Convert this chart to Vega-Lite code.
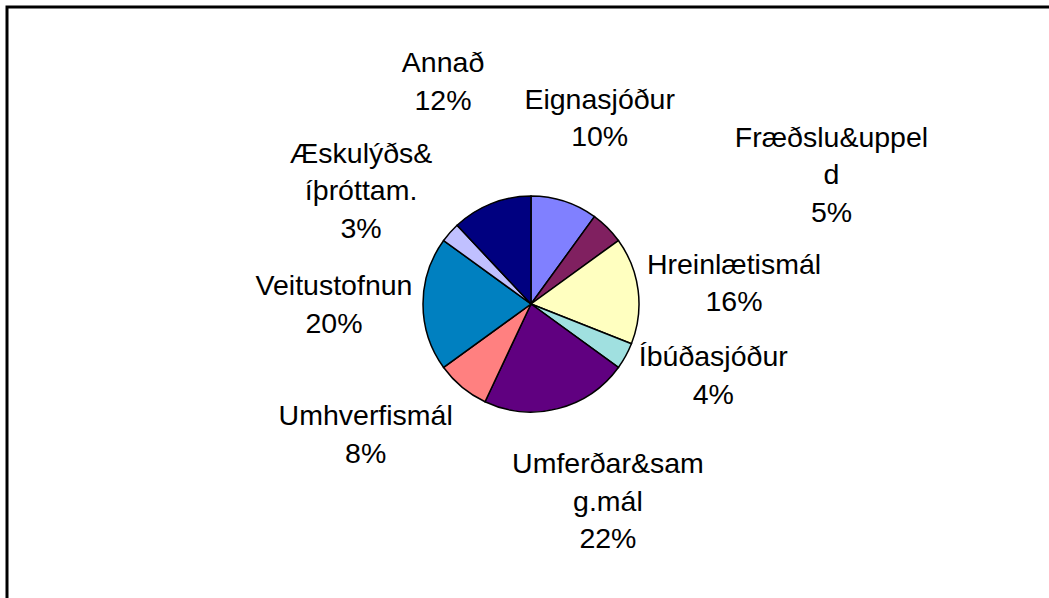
{
  "$schema": "https://vega.github.io/schema/vega-lite/v6.json",
  "autosize": "none",
  "width": 1048,
  "height": 594,
  "padding": {"left": 7, "top": 7, "right": -6, "bottom": -3},
  "background": "white",
  "view": {"stroke": "black", "strokeWidth": 3, "fill": "white"},
  "data": {
    "values": [
      {"i": 1, "k": "Eignasjóður", "label": "Eignasjóður", "value": 10},
      {"i": 2, "k": "Fræðslu", "label": "Fræðslu&uppel\nd", "value": 5},
      {"i": 3, "k": "Hreinlætismál", "label": "Hreinlætismál", "value": 16},
      {"i": 4, "k": "Íbúðasjóður", "label": "Íbúðasjóður", "value": 4},
      {"i": 5, "k": "Umferðar", "label": "Umferðar&sam\ng.mál", "value": 22},
      {"i": 6, "k": "Umhverfismál", "label": "Umhverfismál", "value": 8},
      {"i": 7, "k": "Veitustofnun", "label": "Veitustofnun", "value": 20},
      {"i": 8, "k": "Æskulýðs", "label": "Æskulýðs&\níþróttam.", "value": 3},
      {"i": 9, "k": "Annað", "label": "Annað", "value": 12}
    ]
  },
  "transform": [
    {"calculate": "datum.label + '\\n' + datum.value + '%'", "as": "t"}
  ],
  "encoding": {
    "theta": {"field": "value", "type": "quantitative", "stack": true},
    "order": {"field": "i", "type": "quantitative", "sort": "ascending"}
  },
  "layer": [
    {
      "mark": {"type": "arc", "outerRadius": 108, "stroke": "black", "strokeWidth": 1.5},
      "encoding": {
        "color": {
          "field": "k", "type": "nominal", "legend": null,
          "scale": {
            "domain": ["Eignasjóður", "Fræðslu", "Hreinlætismál", "Íbúðasjóður", "Umferðar", "Umhverfismál", "Veitustofnun", "Æskulýðs", "Annað"],
            "range": ["#8080FF", "#802060", "#FFFFC0", "#A0E0E0", "#600080", "#FF8080", "#0080C0", "#C0C0FF", "#000080"]
          }
        }
      }
    },
    {
      "mark": {"type": "text", "radius": 239, "dy": -18.75, "font": "Liberation Sans", "fontSize": 28.5, "lineBreak": "\n", "lineHeight": 37.5, "baseline": "middle", "align": "center", "color": "black"},
      "encoding": {"text": {"condition": {"test": "datum.k === 'Annað'", "field": "t"}, "value": ""}}
    },
    {
      "mark": {"type": "text", "radius": 198, "dy": -18.75, "thetaOffset": 0.04, "font": "Liberation Sans", "fontSize": 28.5, "lineBreak": "\n", "lineHeight": 37.5, "baseline": "middle", "align": "center", "color": "black"},
      "encoding": {"text": {"condition": {"test": "datum.k === 'Eignasjóður'", "field": "t"}, "value": ""}}
    },
    {
      "mark": {"type": "text", "radius": 327, "dy": -37.5, "thetaOffset": 0.38, "font": "Liberation Sans", "fontSize": 28.5, "lineBreak": "\n", "lineHeight": 37.5, "baseline": "middle", "align": "center", "color": "black"},
      "encoding": {"text": {"condition": {"test": "datum.k === 'Fræðslu'", "field": "t"}, "value": ""}}
    },
    {
      "mark": {"type": "text", "radius": 204, "dy": -18.75, "thetaOffset": 0.026, "font": "Liberation Sans", "fontSize": 28.5, "lineBreak": "\n", "lineHeight": 37.5, "baseline": "middle", "align": "center", "color": "black"},
      "encoding": {"text": {"condition": {"test": "datum.k === 'Hreinlætismál'", "field": "t"}, "value": ""}}
    },
    {
      "mark": {"type": "text", "radius": 196, "dy": -18.75, "thetaOffset": -0.126, "font": "Liberation Sans", "fontSize": 28.5, "lineBreak": "\n", "lineHeight": 37.5, "baseline": "middle", "align": "center", "color": "black"},
      "encoding": {"text": {"condition": {"test": "datum.k === 'Íbúðasjóður'", "field": "t"}, "value": ""}}
    },
    {
      "mark": {"type": "text", "radius": 212, "dy": -37.5, "thetaOffset": -0.12, "font": "Liberation Sans", "fontSize": 28.5, "lineBreak": "\n", "lineHeight": 37.5, "baseline": "middle", "align": "center", "color": "black"},
      "encoding": {"text": {"condition": {"test": "datum.k === 'Umferðar'", "field": "t"}, "value": ""}}
    },
    {
      "mark": {"type": "text", "radius": 211, "dy": -18.75, "thetaOffset": 0.209, "font": "Liberation Sans", "fontSize": 28.5, "lineBreak": "\n", "lineHeight": 37.5, "baseline": "middle", "align": "center", "color": "black"},
      "encoding": {"text": {"condition": {"test": "datum.k === 'Umhverfismál'", "field": "t"}, "value": ""}}
    },
    {
      "mark": {"type": "text", "radius": 197, "dy": -18.75, "thetaOffset": -0.005, "font": "Liberation Sans", "fontSize": 28.5, "lineBreak": "\n", "lineHeight": 37.5, "baseline": "middle", "align": "center", "color": "black"},
      "encoding": {"text": {"condition": {"test": "datum.k === 'Veitustofnun'", "field": "t"}, "value": ""}}
    },
    {
      "mark": {"type": "text", "radius": 204, "dy": -37.5, "thetaOffset": -0.136, "font": "Liberation Sans", "fontSize": 28.5, "lineBreak": "\n", "lineHeight": 37.5, "baseline": "middle", "align": "center", "color": "black"},
      "encoding": {"text": {"condition": {"test": "datum.k === 'Æskulýðs'", "field": "t"}, "value": ""}}
    }
  ]
}
